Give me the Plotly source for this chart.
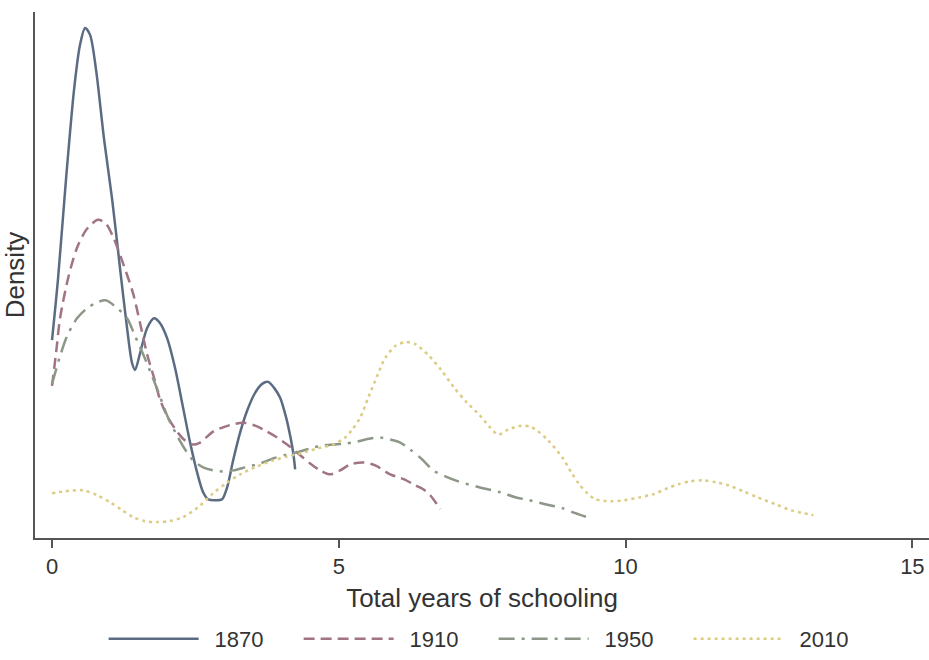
import plotly.graph_objects as go

# ---- data (years of schooling, density) ----
x_1870 = [0.000, 0.105, 0.244, 0.384, 0.488, 0.576, 0.663, 0.767, 0.907, 1.047, 1.186, 1.308, 1.395, 1.448,
          1.535, 1.657, 1.779, 1.884, 2.006, 2.145, 2.285, 2.407, 2.529, 2.634, 2.721, 2.843, 2.965, 3.053,
          3.157, 3.279, 3.401, 3.541, 3.663, 3.768, 3.872, 3.977, 4.082, 4.151, 4.204, 4.239]
y_1870 = [0.199, 0.261, 0.361, 0.451, 0.496, 0.513, 0.506, 0.471, 0.401, 0.341, 0.271, 0.211, 0.176, 0.169,
          0.186, 0.211, 0.221, 0.216, 0.201, 0.171, 0.131, 0.096, 0.066, 0.046, 0.039, 0.038, 0.039, 0.051,
          0.078, 0.106, 0.128, 0.146, 0.155, 0.157, 0.151, 0.141, 0.121, 0.103, 0.086, 0.069]

x_1910 = [0.000, 0.070, 0.140, 0.279, 0.436, 0.610, 0.802, 0.942, 1.064, 1.221, 1.413, 1.535, 1.657, 1.779,
          1.884, 2.023, 2.180, 2.320, 2.442, 2.582, 2.808, 3.070, 3.332, 3.541, 3.750, 3.925, 4.099, 4.291,
          4.500, 4.675, 4.849, 5.024, 5.198, 5.425, 5.634, 5.896, 6.140, 6.332, 6.471, 6.593, 6.698, 6.768]
y_1910 = [0.153, 0.186, 0.221, 0.261, 0.292, 0.311, 0.320, 0.316, 0.303, 0.279, 0.246, 0.216, 0.185, 0.161,
          0.139, 0.121, 0.107, 0.098, 0.094, 0.096, 0.107, 0.113, 0.116, 0.113, 0.107, 0.101, 0.094, 0.085,
          0.075, 0.068, 0.064, 0.068, 0.074, 0.076, 0.073, 0.064, 0.059, 0.053, 0.049, 0.043, 0.035, 0.029]

x_1950 = [0.000, 0.140, 0.262, 0.436, 0.610, 0.785, 0.942, 1.099, 1.308, 1.448, 1.587, 1.744, 1.884, 2.023,
          2.180, 2.320, 2.459, 2.634, 2.808, 2.983, 3.157, 3.366, 3.628, 3.855, 4.099, 4.326, 4.553, 4.727,
          4.919, 5.111, 5.320, 5.547, 5.721, 5.896, 6.070, 6.245, 6.454, 6.646, 6.855, 7.082, 7.448, 7.814,
          8.076, 8.320, 8.599, 8.896, 9.123, 9.332]
y_1950 = [0.155, 0.183, 0.203, 0.221, 0.231, 0.237, 0.239, 0.233, 0.221, 0.203, 0.185, 0.163, 0.142, 0.121,
          0.103, 0.089, 0.078, 0.071, 0.068, 0.067, 0.068, 0.071, 0.075, 0.080, 0.084, 0.087, 0.091, 0.093,
          0.094, 0.095, 0.097, 0.100, 0.101, 0.099, 0.096, 0.089, 0.079, 0.068, 0.062, 0.057, 0.051, 0.046,
          0.041, 0.038, 0.034, 0.030, 0.025, 0.021]

x_2010 = [0.000, 0.227, 0.541, 0.785, 1.012, 1.221, 1.413, 1.622, 1.832, 2.058, 2.285, 2.547, 2.808, 3.035,
          3.279, 3.576, 3.855, 4.099, 4.326, 4.622, 4.901, 5.111, 5.233, 5.372, 5.512, 5.669, 5.808, 5.983,
          6.157, 6.332, 6.576, 6.785, 7.012, 7.221, 7.448, 7.640, 7.780, 7.954, 8.181, 8.338, 8.460, 8.652,
          8.896, 9.053, 9.192, 9.332, 9.471, 9.733, 9.977, 10.256, 10.483, 10.727, 10.919, 11.129, 11.355,
          11.582, 11.791, 12.053, 12.297, 12.611, 12.873, 13.100, 13.274]
y_2010 = [0.045, 0.047, 0.048, 0.043, 0.036, 0.028, 0.021, 0.017, 0.016, 0.017, 0.021, 0.031, 0.045, 0.055,
          0.064, 0.072, 0.078, 0.082, 0.085, 0.090, 0.094, 0.101, 0.109, 0.121, 0.141, 0.163, 0.181, 0.193,
          0.197, 0.195, 0.183, 0.169, 0.151, 0.137, 0.124, 0.111, 0.104, 0.109, 0.113, 0.112, 0.108, 0.098,
          0.081, 0.066, 0.054, 0.045, 0.039, 0.037, 0.038, 0.041, 0.044, 0.050, 0.054, 0.057, 0.058,
          0.056, 0.053, 0.047, 0.041, 0.034, 0.028, 0.025, 0.023]

series_names = ["1870", "1910", "1950", "2010"]
x_ticks = [0, 5, 10, 15]

colors = ["#5a6b82", "#a07484", "#8c9787", "#dccb82"]
dashes = ["solid", "11px,6px", "16px,7px,3px,7px", "3px,4px"]
FONT = "Liberation Sans, Arial, Helvetica, sans-serif"

fig = go.Figure()
for name, xs, ys, c, d in zip(series_names, [x_1870, x_1910, x_1950, x_2010],
                              [y_1870, y_1910, y_1950, y_2010], colors, dashes):
    fig.add_trace(go.Scatter(x=xs, y=ys, mode="lines", name="\u2002" + name,
                             line=dict(color=c, width=2.5, dash=d, shape="spline", smoothing=0.8)))

fig.update_layout(
    width=929, height=660,
    margin=dict(l=35, r=0, t=12, b=119),
    paper_bgcolor="white", plot_bgcolor="white",
    font=dict(family=FONT, size=22, color="#333333"),
    showlegend=True,
    legend=dict(orientation="h", x=0.513, xanchor="center", y=-0.192, yanchor="middle",
                itemwidth=90, entrywidth=90, font=dict(size=22), itemclick=False,
                bgcolor="rgba(0,0,0,0)"),
    xaxis=dict(range=[-0.297, 15.29], tickvals=x_ticks, ticktext=[str(t) for t in x_ticks],
               showline=True, linecolor="#555555", linewidth=2, ticks="outside", ticklen=8,
               tickwidth=1.5, tickcolor="#555555", showgrid=False, zeroline=False,
               title=dict(text="Total years of schooling", standoff=10),
               tickfont=dict(size=22)),
    yaxis=dict(range=[0, 0.529], showline=True, linecolor="#555555", linewidth=2,
               showticklabels=False, ticks="", showgrid=False, zeroline=False,
               title=dict(text="Density", standoff=2)),
)

fig.write_html("out.html")
